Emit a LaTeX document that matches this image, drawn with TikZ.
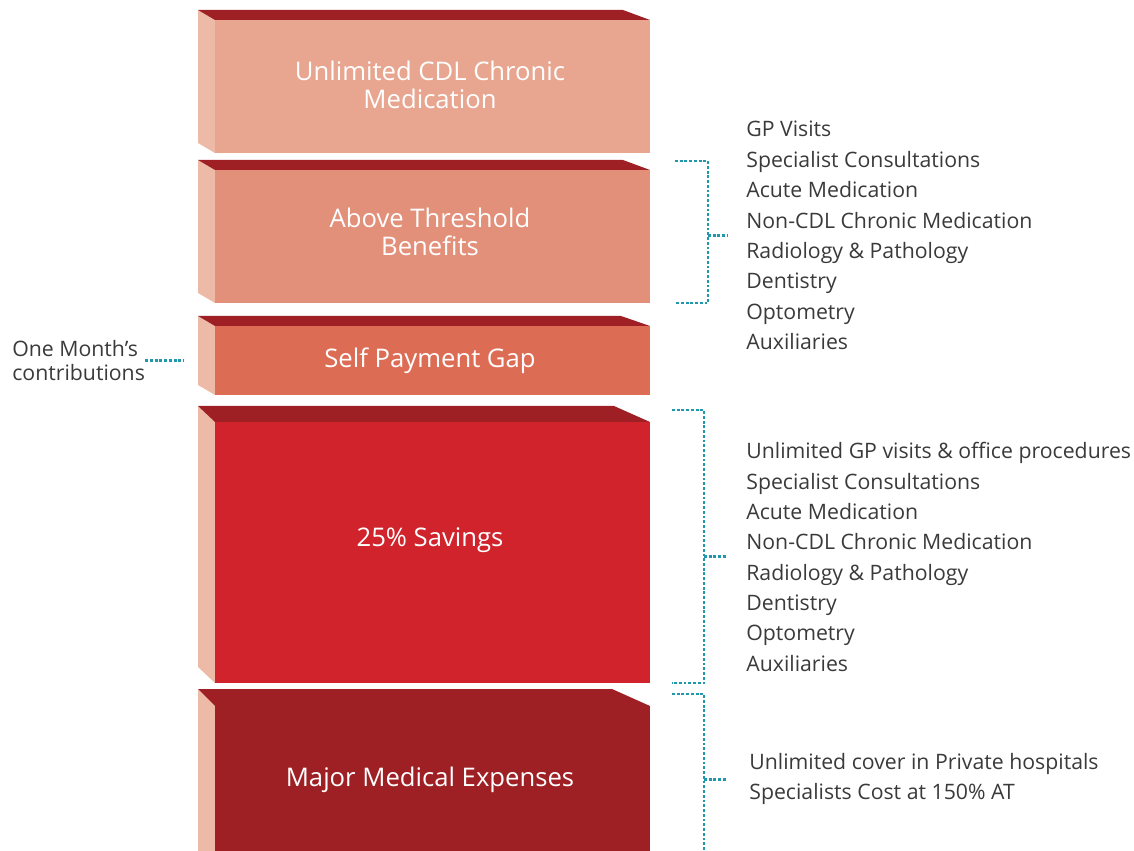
\documentclass[tikz,border=0pt]{standalone}
\usepackage{fontspec}
\setmainfont{Open Sans}
\usetikzlibrary{calc}

\definecolor{blockA}{HTML}{E8A690}
\definecolor{blockB}{HTML}{E2907A}
\definecolor{blockC}{HTML}{DC6C54}
\definecolor{blockD}{HTML}{D0232B}
\definecolor{blockE}{HTML}{9E2024}
\definecolor{topred}{HTML}{9E2024}
\definecolor{sidepink}{HTML}{EDBAA7}
\definecolor{dotblue}{HTML}{1F98AC}
\definecolor{textgrey}{HTML}{3A3A3A}

\begin{document}
\begin{tikzpicture}[x=0.02cm, y=-0.02cm,
    block text/.style={text=white, font=\fontsize{14.6}{15.9}\selectfont, align=center},
    list text/.style={text=textgrey, font=\fontsize{12.1}{17.3}\selectfont, align=left, inner sep=0pt},
    bracket/.style={dotblue, line width=1.7pt, dash pattern=on 1.6pt off 1.1pt}]
    \useasboundingbox (0,0) rectangle (1134,851);
    \clip (0,0) rectangle (1134,851);
    % Draw the blocks: back top y / front top y / bottom y / end of top face / colour
    \foreach \t/\f/\b/\r/\c in {10/20/153/623/blockA, 160/170/303/623/blockB,
        316/326/395/621/blockC, 406/422/683/614/blockD, 689/706/900/612/blockE}{
        \fill[sidepink] (198,\t) -- (215,\f) -- (215,\b) -- (198,{\b-\f+\t}) -- cycle;
        \fill[topred] (198,\t) -- (\r,\t) -- (650,\f) -- (215,\f) -- cycle;
        \fill[\c] (215,\f) rectangle (650,\b);
    }
    % Block titles
    \node[block text] (chronic) at (430,85) {Unlimited CDL Chronic\\Medication};
    \node[block text] (threshold) at (430,232) {Above Threshold\\Benefits};
    \node[block text] (gap) at (430,361) {Self Payment Gap};
    \node[block text] (savings) at (430,540) {25\% Savings};
    \node[block text] (major) at (430,780) {Major Medical Expenses};
    % Benefit lists on the right
    \node[list text, anchor=north west] (abovelist) at (746,121) {GP Visits\\Specialist Consultations\\Acute Medication\\Non-CDL Chronic Medication\\Radiology \& Pathology\\Dentistry\\Optometry\\Auxiliaries};
    \node[list text, anchor=north west] (savingslist) at (746,442) {Unlimited GP visits \& office procedures\\Specialist Consultations\\Acute Medication\\Non-CDL Chronic Medication\\Radiology \& Pathology\\Dentistry\\Optometry\\Auxiliaries};
    \node[list text, anchor=north west] (majorlist) at (749,753) {Unlimited cover in Private hospitals\\Specialists Cost at 150\% AT};
    \node[list text, anchor=north west, font=\fontsize{12.1}{13.6}\selectfont] (onemonth) at (12,340) {One Month’s\\contributions};
    % Dotted brackets
    \draw[bracket] (675,161) -| (708,303) -- (675,303);
    \draw[bracket] ($(abovelist.west)+(-38,0)$) -- ++(20,0);
    \draw[bracket] (672,410) -| (704,683) -- (672,683);
    \draw[bracket] ($(savingslist.west)+(-42,0)$) -- ++(22,0);
    \draw[bracket] (672,694) -| (704,860);
    \draw[bracket] ($(majorlist.west)+(-45,0)$) -- ++(22,0);
    \draw[bracket] (onemonth.east) -- ++(38,0);
\end{tikzpicture}
\end{document}
